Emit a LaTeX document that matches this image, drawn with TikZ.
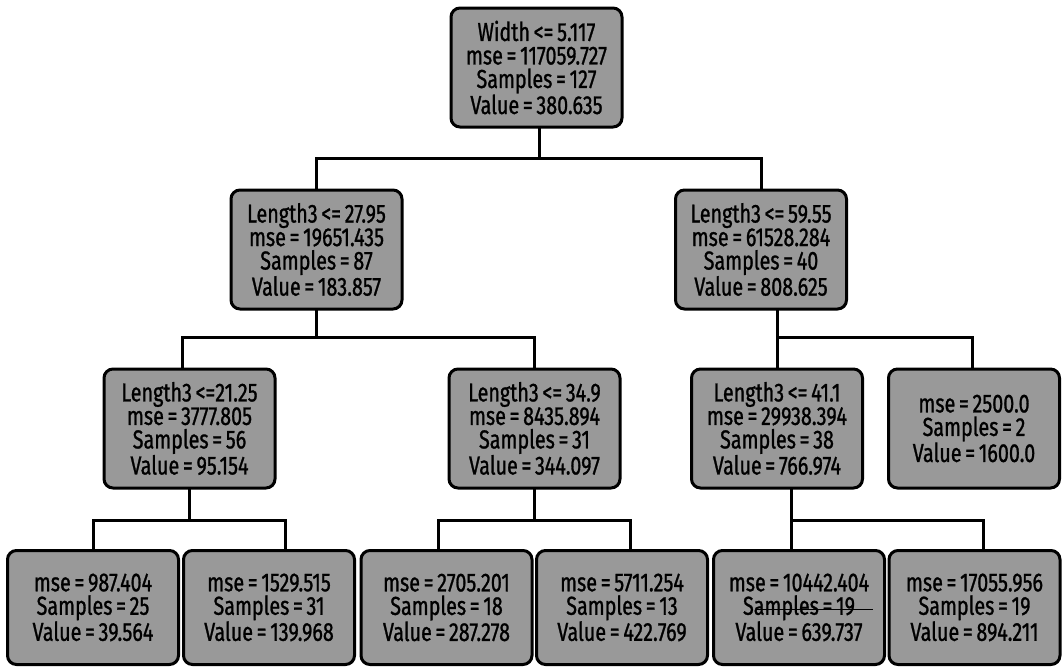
\documentclass[tikz,border=0pt]{standalone}
\usepackage{fontspec}
\setmainfont{Fira Sans}[FakeStretch=0.76, WordSpace=0.7, FakeBold=1.0]
\begin{document}
\begin{tikzpicture}[x=1pt,y=-1pt,
  treebox/.style={draw=black, line width=3pt, rounded corners=9pt, fill=black!40,
    align=center, inner sep=0pt, font=\fontsize{26}{23.5}\selectfont,
    minimum width=171pt},
  inner/.style={treebox, minimum height=119pt},
  leaf/.style={treebox, minimum height=114pt},
  link/.style={line width=3pt, line cap=rect}]
\useasboundingbox (0,0) rectangle (1063,667);
\fill[white] (0,0) rectangle (1063,667);
% level 0
\node[inner] (root) at (536.5,67.5) {Width <= 5.117\\mse = 117059.727\\Samples = 127\\Value = 380.635};
% level 1
\node[inner] (a) at (316.5,249.5) {Length3 <= 27.95\\mse = 19651.435\\Samples = 87\\Value = 183.857};
\node[inner] (b) at (761,249.5) {Length3 <= 59.55\\mse = 61528.284\\Samples = 40\\Value = 808.625};
% level 2
\node[inner] (aa) at (189.5,428.5) {Length3 <=21.25\\mse = 3777.805\\Samples = 56\\Value = 95.154};
\node[inner] (ab) at (534.5,428.5) {Length3 <= 34.9\\mse = 8435.894\\Samples = 31\\Value = 344.097};
\node[inner] (ba) at (777,428.5) {Length3 <= 41.1\\mse = 29938.394\\Samples = 38\\Value = 766.974};
\node[inner] (bb) at (974,428.5) {mse = 2500.0\\Samples = 2\\Value = 1600.0};
% level 3
\node[leaf] (aaa) at (93,607.5) {mse = 987.404\\Samples = 25\\Value = 39.564};
\node[leaf] (aab) at (269,607.5) {mse = 1529.515\\Samples = 31\\Value = 139.968};
\node[leaf] (aba) at (446.5,607.5) {mse = 2705.201\\Samples = 18\\Value = 287.278};
\node[leaf] (abb) at (622,607.5) {mse = 5711.254\\Samples = 13\\Value = 422.769};
\node[leaf] (baa) at (799,607.5) {mse = 10442.404\\Samples = 19\\Value = 639.737};
\node[leaf] (bab) at (974.5,607.5) {mse = 17055.956\\Samples = 19\\Value = 894.211};
% connectors
\draw[link] ([xshift=2.5pt]root.south) -- ++(0,30) coordinate (j0);
\draw[link] (a.north) |- (j0) -| (b.north);
\draw[link] (a.south) -- ++(0,27) coordinate (j1);
\draw[link] ([xshift=-7pt]aa.north) |- (j1) -| (ab.north);
\draw[link] ([xshift=16pt]b.south) -- ++(0,27) coordinate (j2);
\draw[link] (ba.north) |- (j2) -| ([xshift=-2pt]bb.north);
\draw[link] (aa.south) -- ++(0,30.5) coordinate (j3);
\draw[link] (aaa.north) |- (j3) -| ([xshift=16pt]aab.north);
\draw[link] (ab.south) -- ++(0,30.5) coordinate (j4);
\draw[link] ([xshift=-8.5pt]aba.north) |- (j4) -| ([xshift=8pt]abb.north);
\draw[link] ([xshift=14pt]ba.south) -- ++(0,30.5) coordinate (j5);
\draw[link] ([xshift=-8pt]baa.north) |- (j5) -| ([xshift=8.5pt]bab.north);
% stray stroke across the text of one leaf
\draw[line width=1.4pt] ([shift={(-43pt,-2pt)}]baa.center) coordinate (s1) -- ++(117,0);
\end{tikzpicture}
\end{document}
